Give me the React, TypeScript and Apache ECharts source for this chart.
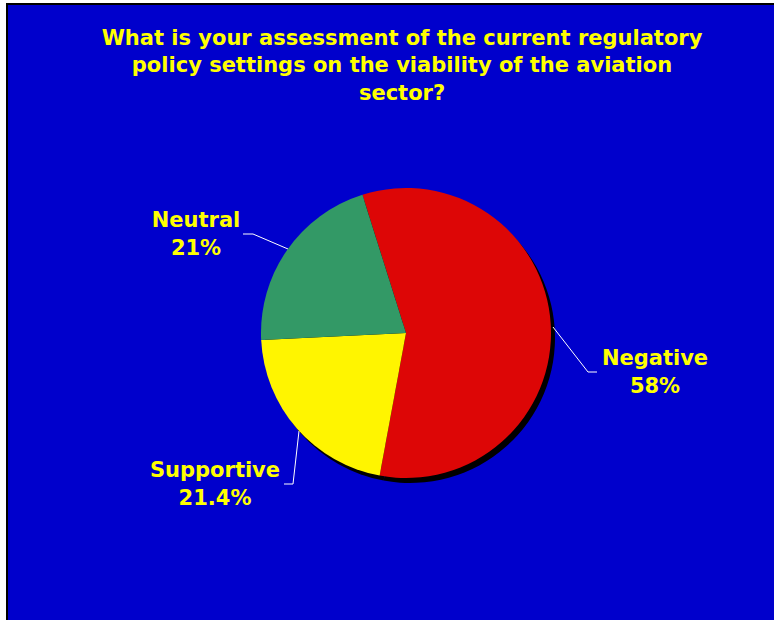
import React, { useEffect, useRef } from "react";
import * as echarts from "echarts";

const titleText =
  "What is your assessment of the current regulatory\npolicy settings on the viability of the aviation\nsector?";
const categories = ["Negative", "Supportive", "Neutral"];
const values = [58, 21.4, 21];
const colors = ["#DD0606", "#FFF500", "#339966"];

// label placement (layout only)
const labelPos = [
  { x: 655, y: 372, line: [[553, 327], [588, 372], [597, 372]] },
  { x: 215, y: 484, line: [[299, 431], [293, 484], [284, 484]] },
  { x: 196, y: 234, line: [[288, 249], [253, 234], [243, 234]] },
];

export default function App() {
  const ref = useRef<HTMLDivElement>(null);
  useEffect(() => {
    if (!ref.current) return;
    const chart = echarts.init(ref.current, null, { renderer: "svg" });
    const data = categories.map((c, i) => ({
      name: c,
      value: values[i],
      itemStyle: { color: colors[i] },
    }));
    chart.setOption({
      animation: false,
      backgroundColor: "#ffffff",
      graphic: [
        {
          type: "rect",
          z: -10,
          shape: { x: 7, y: 4, width: 800, height: 700 },
          style: { fill: "#0000CC", stroke: "#000000", lineWidth: 2 },
        },
      ],
      title: {
        text: titleText,
        left: 397,
        top: 19,
        textAlign: "center",
        textStyle: {
          color: "#FFFF00",
          fontFamily: "DejaVu Sans",
          fontWeight: "bold",
          fontSize: 21,
          lineHeight: 27.5,
        },
      },
      series: [
        {
          type: "pie",
          silent: true,
          center: [410, 338],
          radius: 145,
          startAngle: 107.5,
          z: 1,
          label: { show: false },
          labelLine: { show: false },
          data: categories.map((c, i) => ({
            name: c,
            value: values[i],
            itemStyle: { color: "#000000" },
          })),
        },
        {
          type: "pie",
          center: [406, 333],
          radius: 145,
          startAngle: 107.5,
          z: 2,
          data,
          itemStyle: { borderWidth: 0 },
          label: {
            show: true,
            formatter: "{b}\n{c}%",
            color: "#FFFF00",
            fontFamily: "DejaVu Sans",
            fontWeight: "bold",
            fontSize: 21,
            lineHeight: 28,
            align: "center",
          },
          labelLine: {
            show: true,
            lineStyle: { color: "#ffffff", width: 1 },
          },
          labelLayout: (p: any) => {
            const lp = labelPos[p.dataIndex];
            return {
              x: lp.x,
              y: lp.y,
              align: "center",
              verticalAlign: "middle",
              labelLinePoints: lp.line,
            };
          },
        },
      ],
    });
    return () => chart.dispose();
  }, []);
  return (
    <div
      ref={ref}
      style={{ position: "absolute", left: 0, top: 0, width: 774, height: 620 }}
    />
  );
}
